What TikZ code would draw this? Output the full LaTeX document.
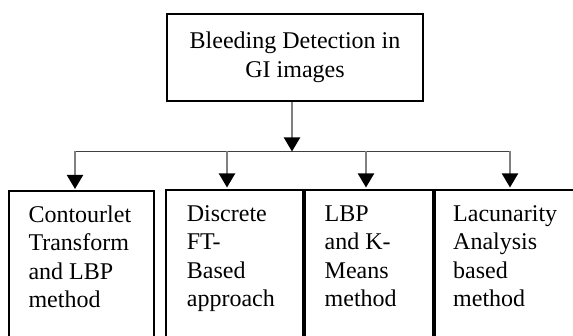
\documentclass[tikz,border=0pt]{standalone}
\usepackage{fontspec}
\setmainfont{Liberation Serif}
\usepackage{tikz}
\usetikzlibrary{arrows.meta}
\usetikzlibrary{positioning}

\tikzset{
  box/.style={draw=black, line width=2pt, rectangle, inner sep=0pt},
  label/.style={inner sep=0pt, align=left, anchor=base west},
  bus/.style={draw=black!75, line width=1.3pt},
  feed/.style={draw=black!50, line width=2pt, shorten >=1.5pt, -{Triangle[color=black,width=16pt,length=14pt]}}
}

\begin{document}
\begin{tikzpicture}[x=1pt,y=1pt]
\fontsize{24}{28.6}\selectfont
\useasboundingbox (0,0) rectangle (573,336);

% Main box
\node[box, minimum width=256pt, minimum height=87pt, align=center] (top) at (295,278.5)
  {Bleeding Detection in\\GI images};

% Method boxes (cut off by the page)
\node[box, anchor=north west, minimum width=145pt, minimum height=170pt] (box1) at (8,145.5) {};
\node[box, anchor=north west, minimum width=137pt, minimum height=170pt] (box2) at (165,147) {};
\node[box, anchor=north west, minimum width=128pt, minimum height=170pt] (box3) at (box2.north east) {};
\node[box, anchor=north west, minimum width=200pt, minimum height=170pt] (box4) at (box3.north east) {};

% Labels (base = last line)
\node[label] (txt1) at (28.3,28) {Contourlet\\Transform\\and LBP\\method};
\node[label] (txt2) at (186.7,29) {Discrete\\FT-\\Based\\approach};
\node[label] (txt3) at (324.5,29) {LBP\\and K-\\Means\\method};
\node[label] (txt4) at (453,29) {Lacunarity\\Analysis\\based\\method};

% Bus line
\coordinate (busL) at (75,184.5);
\coordinate (busR) at (510,184.5);
\coordinate (mid) at (292,184.5);
\draw[bus] (busL) -- (busR);
\draw[feed, shorten >=0pt] (mid |- top.south) -- (mid);

% Arrows down to the methods
\foreach \x/\b in {75/box1, 227/box2, 366/box3, 510/box4}
{
\coordinate (s\b) at (\x,184.5);
\draw[feed] (s\b) -- (s\b |- \b.north);
}

\end{tikzpicture}
\end{document}
